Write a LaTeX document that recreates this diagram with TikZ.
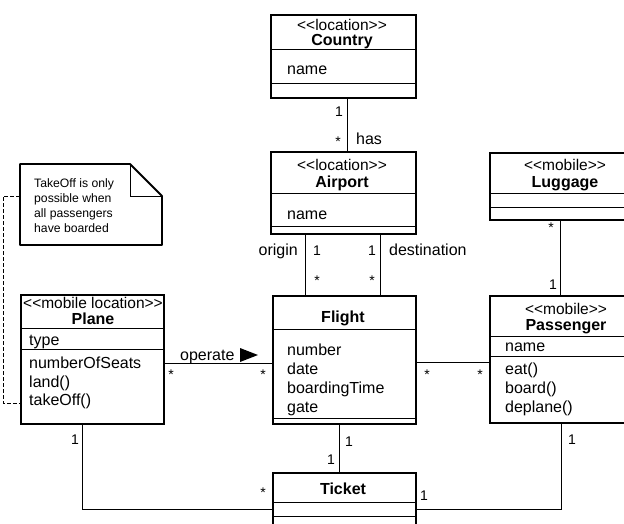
\documentclass[tikz,border=0pt]{standalone}
\usepackage{fontspec}
\setmainfont{Liberation Sans}
\newcommand{\stx}[1]{{<}{<}#1{>}{>}}
\begin{document}
\begin{tikzpicture}[x=1pt,y=-1pt,
  box/.style={draw, line width=1.8pt, rectangle, anchor=north west, inner sep=0pt},
  div/.style={line width=0.8pt},
  conn/.style={line width=1pt},
  tx/.style={font=\fontsize{16}{19}\selectfont, inner sep=0pt, anchor=base west},
  st/.style={font=\fontsize{15.5}{18}\selectfont, inner sep=0pt, anchor=base},
  nm/.style={font=\fontsize{16}{19}\selectfont\bfseries, inner sep=0pt, anchor=base},
  ml/.style={font=\fontsize{14}{16}\selectfont, inner sep=0pt, anchor=base},
  nt/.style={font=\fontsize{12.2}{15}\selectfont, inner sep=0pt, anchor=base west}
]
\useasboundingbox (0,0) rectangle (624,524);
\clip (0,0) rectangle (624,524);
\fill[white] (0,0) rectangle (624,524);

% class boxes
\node[box, minimum width=145pt, minimum height=83pt] (country) at (270,14) {};
\node[box, minimum width=145pt, minimum height=82pt] (airport) at (270,151) {};
\node[box, minimum width=143pt, minimum height=128pt] (flight) at (272,295) {};
\node[box, minimum width=143pt, minimum height=129pt] (plane) at (20,294) {};
\node[box, minimum width=152pt, minimum height=67pt] (luggage) at (489,152) {};
\node[box, minimum width=152pt, minimum height=127pt] (passenger) at (489,295) {};
\node[box, minimum width=143pt, minimum height=80pt] (ticket) at (272,472) {};

% dividers
\draw[div] (270,49) -- (415,49);
\draw[div] (270,83) -- (415,83);
\draw[div] (270,193) -- (415,193);
\draw[div] (270,226) -- (415,226);
\draw[div] (272,329) -- (415,329);
\draw[div] (272,418) -- (415,418);
\draw[div] (20,328) -- (163,328);
\draw[div] (20,349) -- (163,349);
\draw[div] (489,193) -- (641,193);
\draw[div] (489,207) -- (641,207);
\draw[div] (489,336) -- (641,336);
\draw[div] (489,356) -- (641,356);
\draw[div] (272,502) -- (415,502);
\draw[div] (272,516) -- (415,516);

% texts
\node[st] (countrySt) at (342,31) {\stx{location}};
\node[nm] (countryNm) at (342,46) {Country};
\node[tx] (countryA) at (287,75) {name};
\node[st] (airportSt) at (342,171) {\stx{location}};
\node[nm] (airportNm) at (342,187) {Airport};
\node[tx] (airportA) at (287,219) {name};
\node[nm] (flightNm) at (343,322) {Flight};
\node[tx] (flightA1) at (287,355) {number};
\node[tx] (flightA2) at (287,374) {date};
\node[tx] (flightA3) at (287,393) {boardingTime};
\node[tx] (flightA4) at (287,412) {gate};
\node[st] (planeSt) at (93,308) {\stx{mobile location}};
\node[nm] (planeNm) at (93,324) {Plane};
\node[tx] (planeA) at (29,345) {type};
\node[tx] (planeO1) at (29,368) {numberOfSeats};
\node[tx] (planeO2) at (29,387) {land()};
\node[tx] (planeO3) at (29,405) {takeOff()};
\node[st] (luggageSt) at (565,171) {\stx{mobile}};
\node[nm] (luggageNm) at (565,187) {Luggage};
\node[st] (passengerSt) at (566,314) {\stx{mobile}};
\node[nm] (passengerNm) at (566,330) {Passenger};
\node[tx] (passengerA) at (505,351) {name};
\node[tx] (passengerO1) at (505,374) {eat()};
\node[tx] (passengerO2) at (505,393) {board()};
\node[tx] (passengerO3) at (505,412) {deplane()};
\node[nm] (ticketNm) at (343,494) {Ticket};

% note
\draw[line width=1.8pt, line join=round] (20,164) -- (130,164) -- (162,196) -- (162,245) -- (20,245) -- cycle;
\draw[line width=1pt] (130,164) -- (130,196) -- (162,196);
\node[nt] (n1) at (34,187) {TakeOff is only};
\node[nt] (n2) at (34,202) {possible when};
\node[nt] (n3) at (34,217) {all passengers};
\node[nt] (n4) at (34,232) {have boarded};
\coordinate (noteL) at (20,196);
\coordinate (takeL) at (20,403);
\draw[conn, dash pattern=on 4pt off 2pt] (noteL) -- (3,196) -- (3,403) -- (takeL);

% x helper coordinates
\coordinate (xHas) at (347,0);
\coordinate (xOri) at (305,0);
\coordinate (xDes) at (380,0);
\coordinate (xLug) at (560,0);
\coordinate (xFT) at (339,0);
\coordinate (xPl) at (82,0);
\coordinate (xPa) at (561,0);
\coordinate (yOp) at (0,363);
\coordinate (yFP) at (0,362);
\coordinate (yTk) at (0,509);

% connectors
\draw[conn] (country.south -| xHas) -- (airport.north -| xHas);
\draw[conn] (airport.south -| xOri) -- (flight.north -| xOri);
\draw[conn] (airport.south -| xDes) -- (flight.north -| xDes);
\draw[conn] (luggage.south -| xLug) -- (passenger.north -| xLug);
\draw[conn] (plane.east |- yOp) -- (flight.west |- yOp);
\draw[conn] (flight.east |- yFP) -- (passenger.west |- yFP);
\draw[conn] (flight.south -| xFT) -- (ticket.north -| xFT);
\draw[conn] (plane.south -| xPl) -- (xPl |- yTk) -- (ticket.west |- yTk);
\draw[conn] (passenger.south -| xPa) -- (xPa |- yTk) -- (ticket.east |- yTk);

% association labels
\node[ml] at (339,117) {1};
\node[ml] at (338,147) {*};
\node[tx] at (356,145) {has};
\node[tx, anchor=base east] at (298,255) {origin};
\node[ml] at (317,255) {1};
\node[ml] at (317,285) {*};
\node[ml] at (372,255) {1};
\node[ml] at (372,285) {*};
\node[tx] at (389,255) {destination};
\node[ml] at (551,232) {*};
\node[ml] at (553,289) {1};
\node[tx] at (180,360) {operate};
\fill (240,348) -- (258,355) -- (240,362) -- cycle;
\node[ml] at (171,379) {*};
\node[ml] at (263,379) {*};
\node[ml] at (427,379) {*};
\node[ml] at (480,379) {*};
\node[ml] at (75,444) {1};
\node[ml] at (349,446) {1};
\node[ml] at (331,464) {1};
\node[ml] at (572,444) {1};
\node[ml] at (263,497) {*};
\node[ml] at (424,500) {1};
\end{tikzpicture}
\end{document}
